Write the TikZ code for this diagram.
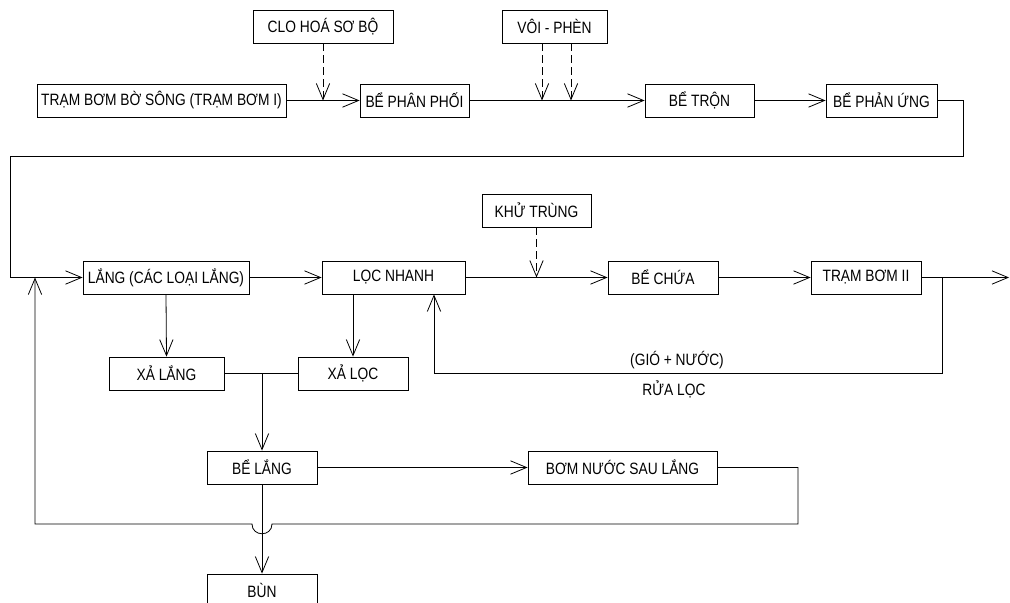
\documentclass[tikz,border=0pt]{standalone}
\usepackage{fontspec}
\setmainfont[FakeStretch=0.84]{Liberation Sans}
\usetikzlibrary{arrows.meta}
\begin{document}
\begin{tikzpicture}[x=0.75pt,y=-0.75pt,
  font=\fontsize{12.3}{14}\selectfont,
  box/.style={draw,line width=0.6pt,rectangle,inner sep=0pt,minimum height=24.75pt},
  flow/.style={line width=0.6pt,-{Straight Barb[length=12pt,width=10pt,line width=0.6pt]}},
  plain/.style={line width=0.6pt},
  dose/.style={flow,dash pattern=on 6pt off 3pt}]
\useasboundingbox (0,0) rectangle (1010,603);
% boxes
\node[box,minimum width=105pt] (clo) at (323,26.5) {CLO HOÁ SƠ BỘ};
\node[box,minimum width=186.75pt] (tram1) at (161.5,100.5) {TRẠM BƠM BỜ SÔNG (TRẠM BƠM I)};
\node[box,minimum width=81.75pt] (phanphoi) at (414.5,100.5) {BỂ PHÂN PHỐI};
\node[box,minimum width=78.75pt] (voi) at (554.5,26.5) {VÔI - PHÈN};
\node[box,minimum width=81.75pt] (tron) at (699.5,100.5) {BỂ TRỘN};
\node[box,minimum width=83.25pt] (phanung) at (881.5,100.5) {BỂ PHẢN ỨNG};
\node[box,minimum width=124.5pt] (lang) at (166,277.5) {LẮNG (CÁC LOẠI LẮNG)};
\node[box,minimum width=107.25pt] (locnhanh) at (393.5,277.5) {LỌC NHANH};
\node[box,minimum width=81.75pt] (khu) at (536.5,210.5) {KHỬ TRÙNG};
\node[box,minimum width=82.5pt] (chua) at (663,277.5) {BỂ CHỨA};
\node[box,minimum width=82.5pt] (tram2) at (866,277.5) {TRẠM BƠM II};
\node[box,minimum width=86.25pt] (xalang) at (166.5,373.5) {XẢ LẮNG};
\node[box,minimum width=82.5pt] (xaloc) at (353,373.5) {XẢ LỌC};
\node[box,minimum width=82.5pt] (belang) at (262,467.5) {BỂ LẮNG};
\node[box,minimum width=141.75pt] (bom) at (622.5,467.5) {BƠM NƯỚC SAU LẮNG};
\node[box,minimum width=82.5pt] (bun) at (262,590.5) {BÙN};
% labels
\node (gio) at (677,360) {(GIÓ + NƯỚC)};
\node (rua) at (674,389) {RỬA LỌC};
% helper coordinates
\coordinate (v1) at (542,43);
\coordinate (v2) at (571,43);
\coordinate (retR) at (963,100.5);
\coordinate (retR2) at (963,156);
\coordinate (retL) at (10,156);
\coordinate (retL2) at (10,277.5);
\coordinate (out) at (1009,277.5);
\coordinate (br) at (942,277.5);
\coordinate (br2) at (942,373);
\coordinate (br3) at (434,373);
\coordinate (xl) at (353,277.5);
\coordinate (mid) at (262,373.5);
\coordinate (bR) at (798,467.5);
\coordinate (bR2) at (798,524);
\coordinate (hopR) at (272,524);
\coordinate (hopL) at (252,524);
\coordinate (bL) at (35,524);
\coordinate (bL2) at (35,277.5);
% connectors row 1
\draw[flow] (tram1.east) -- (phanphoi.west);
\draw[dose] (clo.south) -- (clo.south |- tram1.east);
\draw[flow] (phanphoi.east) -- (tron.west);
\draw[dose] (v1) -- (v1 |- tron.west);
\draw[dose] (v2) -- (v2 |- tron.west);
\draw[flow] (tron.east) -- (phanung.west);
\draw[flow] (phanung.east) -- (retR) -- (retR2) -- (retL) -- (retL2) -- (lang.west);
% row 2
\draw[flow] (lang.east) -- (locnhanh.west);
\draw[flow] (locnhanh.east) -- (chua.west);
\draw[dose] (khu.south) -- (khu.south |- chua.west);
\draw[flow] (chua.east) -- (tram2.west);
\draw[flow] (tram2.east) -- (out);
\draw[flow] (br) -- (br2) -- (br3) -- (br3 |- locnhanh.south);
% down branches
\draw[flow] (lang.south) -- (xalang.north);
\draw[flow] (xl |- locnhanh.south) -- (xaloc.north);
\draw[plain] (xalang.east) -- (xaloc.west);
\draw[flow] (mid) -- (belang.north);
\draw[flow] (belang.east) -- (bom.west);
\draw[flow] (belang.south) -- (bun.north);
\draw[flow] (bom.east) -- (bR) -- (bR2) -- (hopR) .. controls (272,537) and (252,537) .. (hopL) -- (bL) -- (bL2);
\end{tikzpicture}
\end{document}
